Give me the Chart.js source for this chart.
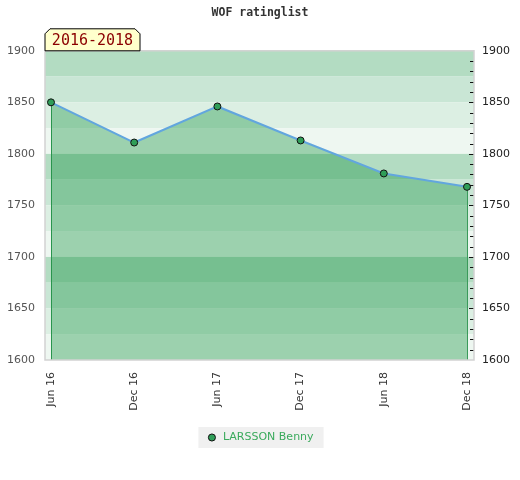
<!DOCTYPE html>
<html>
<head>
<meta charset="utf-8">
<script src="https://cdn.jsdelivr.net/npm/chart.js@4"></script>
<style>
  html, body { margin: 0; padding: 0; background: #fff; }
  #wrap { width: 520px; height: 480px; }
</style>
</head>
<body>
<div id="wrap"><canvas id="graficaRating"></canvas></div>
<script>
// datos
const periodos = ['Jun 16', 'Dec 16', 'Jun 17', 'Dec 17', 'Jun 18', 'Dec 18'];
const ratings = [1850, 1811, 1846, 1813, 1781, 1768];
const jugador = 'LARSSON Benny';
const rangoAnios = '2016-2018';
const yMin = 1600;
const yMax = 1900;

// franjas de fondo, cada 25 puntos
const coloresFranja = ['#b3dcc2', '#c9e6d5', '#dcefe3', '#eef7f1'];

const pluginFondo = {
    id: 'fondo',
    beforeDatasetsDraw(chart) {
        const { ctx, chartArea: a, scales } = chart;
        const y = scales.y;
        ctx.save();
        let i = 0;
        for (let v = yMax; v > yMin; v -= 25) {
            const y1 = y.getPixelForValue(v);
            const y2 = y.getPixelForValue(v - 25);
            ctx.fillStyle = coloresFranja[i % 4];
            ctx.fillRect(a.left, y1, a.right - a.left, y2 - y1);
            i++;
        }
        // lineas verticales en los extremos
        const meta = chart.getDatasetMeta(0);
        const p0 = meta.data[0], pN = meta.data[meta.data.length - 1];
        ctx.strokeStyle = '#3a9a5a';
        ctx.lineWidth = 1;
        [p0, pN].forEach(p => {
            ctx.beginPath();
            ctx.moveTo(Math.round(p.x) + 0.5, p.y);
            ctx.lineTo(Math.round(p.x) + 0.5, a.bottom);
            ctx.stroke();
        });
        ctx.restore();
    },
    afterDatasetsDraw(chart) {
        const { ctx, chartArea: a, scales } = chart;
        ctx.save();
        // marcas menores del eje derecho
        ctx.strokeStyle = '#111';
        ctx.lineWidth = 1;
        for (let v = yMin + 10; v < yMax; v += 10) {
            const py = Math.round(scales.y2.getPixelForValue(v)) + 0.5;
            ctx.beginPath();
            ctx.moveTo(a.right - (v % 50 === 0 ? 5 : 4), py);
            ctx.lineTo(a.right, py);
            ctx.stroke();
        }
        // borde
        ctx.strokeStyle = '#d2d2d2';
        ctx.lineWidth = 1.5;
        ctx.strokeRect(a.left, a.top, a.right - a.left, a.bottom - a.top);
        ctx.restore();
    },
    afterDraw(chart) {
        const { ctx, chartArea: a } = chart;
        // etiqueta del rango de años
        const x0 = a.left, x1 = a.left + 95, yb = a.top, yt = a.top - 22, c = 5;
        ctx.save();
        ctx.beginPath();
        ctx.moveTo(x0, yb);
        ctx.lineTo(x0, yt + c);
        ctx.lineTo(x0 + c, yt);
        ctx.lineTo(x1 - c, yt);
        ctx.lineTo(x1, yt + c);
        ctx.lineTo(x1, yb);
        ctx.closePath();
        ctx.fillStyle = '#ffffcc';
        ctx.fill();
        ctx.strokeStyle = '#000';
        ctx.lineWidth = 1;
        ctx.stroke();
        ctx.fillStyle = '#8b0000';
        ctx.font = '15px "DejaVu Sans Mono"';
        ctx.textAlign = 'center';
        ctx.textBaseline = 'middle';
        ctx.fillText(rangoAnios, (x0 + x1) / 2, (yt + yb) / 2 + 1);
        ctx.restore();
    },
    beforeDraw(chart) {
        // fondo gris de la leyenda
        const lg = chart.legend;
        if (!lg || !lg.legendHitBoxes || !lg.legendHitBoxes.length) return;
        const hb = lg.legendHitBoxes[0];
        const { ctx } = chart;
        ctx.save();
        ctx.fillStyle = '#f0f0f0';
        const cy = hb.top + hb.height / 2;
        ctx.fillRect(hb.left - 8, cy - 10.5, hb.width + 18, 21);
        ctx.restore();
    }
};

Chart.defaults.font.family = '"DejaVu Sans"';
Chart.defaults.font.size = 11;

new Chart(document.getElementById('graficaRating').getContext('2d'), {
    type: 'line',
    data: {
        datasets: [{
            label: jugador,
            data: ratings.map((r, i) => ({ x: i, y: r })),
            borderColor: '#62a6de',
            borderWidth: 2,
            backgroundColor: 'rgba(10, 140, 55, 0.36)',
            fill: 'start',
            tension: 0,
            pointRadius: 3.5,
            pointBackgroundColor: '#2f9e58',
            pointBorderColor: '#111',
            pointBorderWidth: 1
        }]
    },
    options: {
        responsive: true,
        maintainAspectRatio: false,
        animation: false,
        layout: { padding: { left: 0, right: 0, top: 0, bottom: 27 } },
        scales: {
            x: {
                type: 'linear',
                min: -0.072,
                max: 5.084,
                afterBuildTicks: s => { s.ticks = periodos.map((_, i) => ({ value: i })); },
                afterFit: s => { s.height = 62; },
                grid: { display: false, drawTicks: false },
                border: { display: false },
                ticks: {
                    autoSkip: false,
                    minRotation: 90,
                    maxRotation: 90,
                    padding: 12,
                    color: '#333',
                    callback: v => periodos[v]
                }
            },
            y: {
                position: 'left',
                min: yMin,
                max: yMax,
                afterFit: s => { s.width = 45; },
                grid: { display: false, drawTicks: false },
                border: { display: false },
                ticks: { stepSize: 50, padding: 10, color: '#555', callback: v => String(v) }
            },
            y2: {
                position: 'right',
                min: yMin,
                max: yMax,
                afterFit: s => { s.width = 46; },
                grid: { display: false, drawTicks: false },
                border: { display: false },
                ticks: { stepSize: 50, padding: 8, color: '#222', callback: v => String(v) }
            }
        },
        plugins: {
            title: {
                display: true,
                text: 'WOF ratinglist',
                color: '#333',
                font: { family: '"DejaVu Sans Mono"', size: 11.5, weight: 'bold' },
                padding: { top: 6, bottom: 31 }
            },
            legend: {
                position: 'bottom',
                labels: {
                    usePointStyle: true,
                    boxWidth: 16,
                    boxHeight: 5,
                    color: '#3aaa5c',
                    font: { size: 11 }
                }
            },
            tooltip: { enabled: false }
        }
    },
    plugins: [pluginFondo]
});
</script>
</body>
</html>
